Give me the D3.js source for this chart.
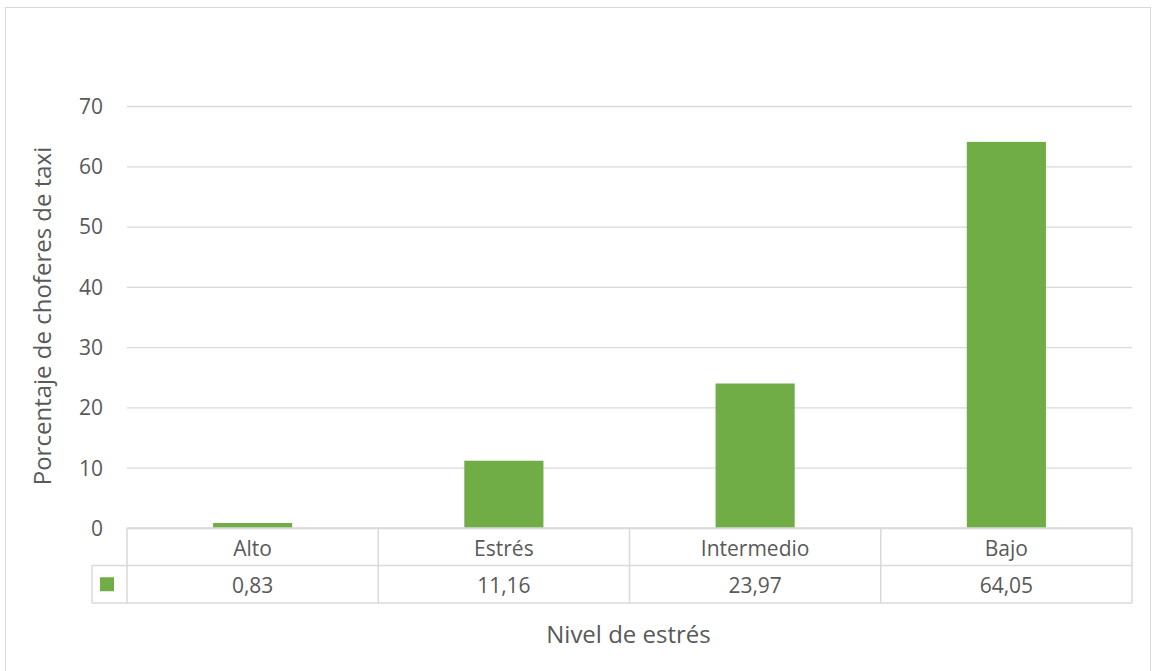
<!DOCTYPE html>
<html>
<head>
<meta charset="utf-8">
<script src="https://cdn.jsdelivr.net/npm/d3@7"></script>
<style>
  body { margin: 0; background: #fff; }
  text { font-family: "Open Sans", sans-serif; fill: #595959; }
</style>
</head>
<body>
<div id="chart"></div>
<script>
// data
var categories = ["Alto", "Estrés", "Intermedio", "Bajo"];
var values = [0.83, 11.16, 23.97, 64.05];
var valueLabels = ["0,83", "11,16", "23,97", "64,05"];
var yTicks = [0, 10, 20, 30, 40, 50, 60, 70];

var W = 1153, H = 671;
var plot = {left: 127, right: 1132, top: 106, bottom: 528};
var rowH = 37.5;
var green = "#70ad47", grid = "#d9d9d9";

var svg = d3.select("#chart").append("svg")
    .attr("width", W)
    .attr("height", H);

// outer chart border
svg.append("rect")
    .attr("x", 5.5).attr("y", 7.5)
    .attr("width", W - 8).attr("height", H - 6)
    .attr("fill", "none")
    .attr("stroke", grid);

var x = d3.scaleBand()
    .domain(categories)
    .range([plot.left, plot.right])
    .paddingInner(0)
    .paddingOuter(0);

var y = d3.scaleLinear()
    .domain([0, 70])
    .range([plot.bottom, plot.top]);

// gridlines + tick labels
var yAxis = svg.append("g")
    .attr("transform", "translate(" + plot.left + ",0)")
    .call(d3.axisLeft(y).tickValues(yTicks).tickSize(-(plot.right - plot.left)).tickPadding(24).tickFormat(d3.format("d")));
yAxis.select(".domain").remove();
yAxis.selectAll("line").attr("stroke", grid).attr("stroke-width", 1.3);
yAxis.selectAll("text")
    .style("font-size", "21px")
    .style("font-family", "'Open Sans', sans-serif")
    .attr("dy", "0.35em")
    .attr("fill", "#595959");

// bars
var barW = x.bandwidth() * 0.315;
svg.selectAll(".bar")
    .data(values)
    .enter()
    .append("rect")
    .attr("class", "bar")
    .attr("x", function (d, i) { return x(categories[i]) + (x.bandwidth() - barW) / 2; })
    .attr("y", function (d) { return y(d); })
    .attr("width", barW)
    .attr("height", function (d) { return y(0) - y(d); })
    .attr("fill", green);

// data table
var tbl = svg.append("g").attr("stroke", grid).attr("stroke-width", 1.5).attr("fill", "none");
var legendLeft = 92;
tbl.append("line").attr("x1", plot.left).attr("x2", plot.right).attr("y1", plot.bottom).attr("y2", plot.bottom);
tbl.append("line").attr("x1", legendLeft).attr("x2", plot.right).attr("y1", plot.bottom + rowH).attr("y2", plot.bottom + rowH);
tbl.append("line").attr("x1", legendLeft).attr("x2", plot.right).attr("y1", plot.bottom + 2 * rowH).attr("y2", plot.bottom + 2 * rowH);
tbl.append("line").attr("x1", legendLeft).attr("x2", legendLeft).attr("y1", plot.bottom + rowH).attr("y2", plot.bottom + 2 * rowH);
tbl.selectAll(".vline")
    .data(categories.concat(["end"]))
    .enter()
    .append("line")
    .attr("x1", function (d, i) { return plot.left + i * x.bandwidth(); })
    .attr("x2", function (d, i) { return plot.left + i * x.bandwidth(); })
    .attr("y1", plot.bottom)
    .attr("y2", plot.bottom + 2 * rowH);

svg.selectAll(".cat")
    .data(categories)
    .enter()
    .append("text")
    .attr("x", function (d) { return x(d) + x.bandwidth() / 2; })
    .attr("y", plot.bottom + rowH / 2 + 9.5)
    .attr("text-anchor", "middle")
    .style("font-size", "21px")
    .text(function (d) { return d; });

svg.selectAll(".val")
    .data(valueLabels)
    .enter()
    .append("text")
    .attr("x", function (d, i) { return x(categories[i]) + x.bandwidth() / 2; })
    .attr("y", plot.bottom + rowH * 1.5 + 9)
    .attr("text-anchor", "middle")
    .style("font-size", "21px")
    .text(function (d) { return d; });

// legend key in table
svg.append("rect")
    .attr("x", 100).attr("y", plot.bottom + rowH * 1.5 - 7)
    .attr("width", 14).attr("height", 14)
    .attr("fill", green);

// axis titles
svg.append("text")
    .attr("transform", "translate(51," + 316 + ") rotate(-90)")
    .attr("text-anchor", "middle")
    .style("font-size", "24px")
    .text("Porcentaje de choferes de taxi");

svg.append("text")
    .attr("x", 628.5)
    .attr("y", 643)
    .attr("text-anchor", "middle")
    .style("font-size", "24px")
    .text("Nivel de estrés");
</script>
</body>
</html>
